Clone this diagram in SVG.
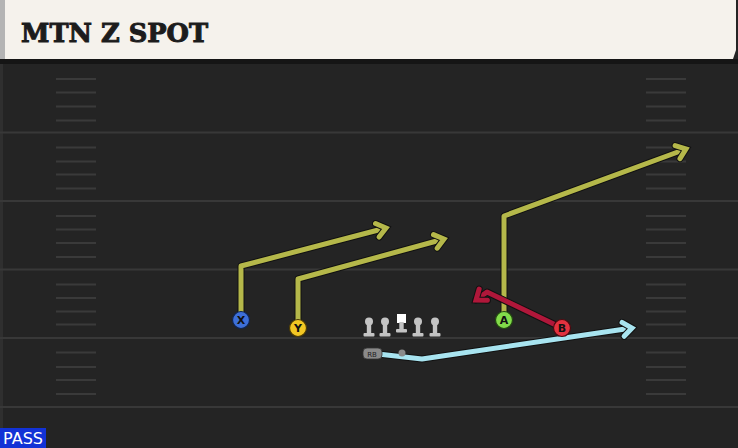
<svg xmlns="http://www.w3.org/2000/svg" width="738" height="448" viewBox="0 0 738 448">
<style>
.yard{stroke:#383838;stroke-width:2}
.hash{stroke:#3a3a3a;stroke-width:2}
.out{fill:none;stroke:#111;stroke-width:7;stroke-linejoin:round;stroke-linecap:round}
.rt{fill:none;stroke-width:5;stroke-linejoin:round;stroke-linecap:round}
.ol{stroke:none;fill:#c4c4c4}
.lbl{font-family:"DejaVu Sans",sans-serif;font-weight:bold;font-size:11px;fill:#111;text-anchor:middle}
</style>
<defs>
<marker id="ay" markerUnits="userSpaceOnUse" markerWidth="20" markerHeight="20" refX="0" refY="0" viewBox="-12 -10 20 20" orient="auto" overflow="visible">
<path d="M-9,-7 L0,0 L-9,7" fill="none" stroke="#111" stroke-width="7" stroke-linejoin="miter" stroke-linecap="round"/>
<path d="M-9,-7 L0,0 L-9,7" fill="none" stroke="#b5b84a" stroke-width="5" stroke-linejoin="miter" stroke-linecap="round"/>
</marker>
<marker id="ar" markerUnits="userSpaceOnUse" markerWidth="20" markerHeight="20" refX="0" refY="0" viewBox="-12 -10 20 20" orient="auto" overflow="visible">
<path d="M-9,-7 L0,0 L-9,7" fill="none" stroke="#111" stroke-width="7" stroke-linejoin="miter" stroke-linecap="round"/>
<path d="M-9,-7 L0,0 L-9,7" fill="none" stroke="#b0173a" stroke-width="5" stroke-linejoin="miter" stroke-linecap="round"/>
</marker>
<marker id="ab" markerUnits="userSpaceOnUse" markerWidth="20" markerHeight="20" refX="0" refY="0" viewBox="-12 -10 20 20" orient="auto" overflow="visible">
<path d="M-9,-7 L0,0 L-9,7" fill="none" stroke="#111" stroke-width="7" stroke-linejoin="miter" stroke-linecap="round"/>
<path d="M-9,-7 L0,0 L-9,7" fill="none" stroke="#a8e4f0" stroke-width="5" stroke-linejoin="miter" stroke-linecap="round"/>
</marker>
<g id="lineman">
<circle cx="0" cy="-9.5" r="4" class="ol"/>
<rect x="-2.2" y="-7" width="4.4" height="10" class="ol"/>
<rect x="-5.5" y="2" width="11" height="3.5" rx="1" class="ol"/>
</g>
</defs>
<rect width="738" height="448" fill="#242424"/>
<rect x="0" y="59" width="738" height="5" fill="#151515"/>
<rect x="0" y="64" width="3" height="384" fill="#2f2f2f"/>
<g id="field">
<line class="yard" x1="0" y1="132.5" x2="738" y2="132.5"/>
<line class="yard" x1="0" y1="201" x2="738" y2="201"/>
<line class="yard" x1="0" y1="269.5" x2="738" y2="269.5"/>
<line class="yard" x1="0" y1="338" x2="738" y2="338"/>
<line class="yard" x1="0" y1="407" x2="738" y2="407"/>
<g class="hash">
<line x1="56" y1="79" x2="96" y2="79"/><line x1="56" y1="92.5" x2="96" y2="92.5"/><line x1="56" y1="106.5" x2="96" y2="106.5"/><line x1="56" y1="120.5" x2="96" y2="120.5"/>
<line x1="56" y1="147.5" x2="96" y2="147.5"/><line x1="56" y1="161.5" x2="96" y2="161.5"/><line x1="56" y1="174.5" x2="96" y2="174.5"/><line x1="56" y1="188.5" x2="96" y2="188.5"/>
<line x1="56" y1="216" x2="96" y2="216"/><line x1="56" y1="229.5" x2="96" y2="229.5"/><line x1="56" y1="243" x2="96" y2="243"/><line x1="56" y1="257" x2="96" y2="257"/>
<line x1="56" y1="284.5" x2="96" y2="284.5"/><line x1="56" y1="298" x2="96" y2="298"/><line x1="56" y1="311.5" x2="96" y2="311.5"/><line x1="56" y1="324.5" x2="96" y2="324.5"/>
<line x1="56" y1="352.5" x2="96" y2="352.5"/><line x1="56" y1="367" x2="96" y2="367"/><line x1="56" y1="380" x2="96" y2="380"/><line x1="56" y1="394" x2="96" y2="394"/>
<line x1="646" y1="79" x2="686" y2="79"/><line x1="646" y1="92.5" x2="686" y2="92.5"/><line x1="646" y1="106.5" x2="686" y2="106.5"/><line x1="646" y1="120.5" x2="686" y2="120.5"/>
<line x1="646" y1="147.5" x2="686" y2="147.5"/><line x1="646" y1="161.5" x2="686" y2="161.5"/><line x1="646" y1="174.5" x2="686" y2="174.5"/><line x1="646" y1="188.5" x2="686" y2="188.5"/>
<line x1="646" y1="216" x2="686" y2="216"/><line x1="646" y1="229.5" x2="686" y2="229.5"/><line x1="646" y1="243" x2="686" y2="243"/><line x1="646" y1="257" x2="686" y2="257"/>
<line x1="646" y1="284.5" x2="686" y2="284.5"/><line x1="646" y1="298" x2="686" y2="298"/><line x1="646" y1="311.5" x2="686" y2="311.5"/><line x1="646" y1="324.5" x2="686" y2="324.5"/>
<line x1="646" y1="352.5" x2="686" y2="352.5"/><line x1="646" y1="367" x2="686" y2="367"/><line x1="646" y1="380" x2="686" y2="380"/><line x1="646" y1="394" x2="686" y2="394"/>
</g>
</g>
<g id="header">
<rect x="0" y="0" width="5" height="59" fill="#b4b4b4"/>
<path d="M5,0 H736 V50 L733,59 H5 Z" fill="#f5f2ec"/>
<text x="21" y="42" font-family="'DejaVu Serif',serif" font-weight="bold" font-size="26" fill="#1c1c1c" stroke="#1c1c1c" stroke-width="1" textLength="187" lengthAdjust="spacingAndGlyphs">MTN Z SPOT</text>
</g>
<g id="connectors">
<path class="out" d="M241,312 V266 L386,228"/>
<path class="rt" stroke="#b5b84a" d="M241,312 V266 L386,228" marker-end="url(#ay)"/>
<path class="out" d="M298,320 V279 L444,239"/>
<path class="rt" stroke="#b5b84a" d="M298,320 V279 L444,239" marker-end="url(#ay)"/>
<path class="out" d="M504,312 V216 L686,149"/>
<path class="rt" stroke="#b5b84a" d="M504,312 V216 L686,149" marker-end="url(#ay)"/>
<path class="out" d="M562,328 L487,292 L476,300"/>
<path class="rt" stroke="#b0173a" d="M562,328 L487,292 L476,300" marker-end="url(#ar)"/>
<path class="out" d="M378,354 L422,359 L632,328"/>
<path class="rt" stroke="#a8e4f0" d="M378,354 L422,359 L632,328" marker-end="url(#ab)"/>
</g>
<g id="X"><circle cx="241" cy="320" r="8.5" fill="#3d6fd8" stroke="#10254f" stroke-width="1.2"/><text class="lbl" x="241" y="324">X</text></g>
<g id="Y"><circle cx="298" cy="328" r="8.5" fill="#f2c623" stroke="#4a3a05" stroke-width="1.2"/><text class="lbl" x="298" y="332">Y</text></g>
<g id="A"><circle cx="504" cy="320" r="8.5" fill="#82dc4a" stroke="#224a10" stroke-width="1.2"/><text class="lbl" x="504" y="324">A</text></g>
<g id="B"><circle cx="562" cy="328" r="8.5" fill="#e2323f" stroke="#4a0a10" stroke-width="1.2"/><text class="lbl" x="562" y="332">B</text></g>
<g id="LT"><use href="#lineman" x="369" y="331"/></g>
<g id="LG"><use href="#lineman" x="385" y="331"/></g>
<g id="C"><rect x="397" y="314" width="9" height="9" fill="#ffffff"/><rect x="399.3" y="322" width="4.4" height="8" class="ol"/><rect x="396" y="329" width="11" height="3.5" rx="1" class="ol"/></g>
<g id="RG"><use href="#lineman" x="418" y="331"/></g>
<g id="RT"><use href="#lineman" x="435" y="331"/></g>
<g id="QB"><circle cx="402" cy="353" r="3.5" fill="#8a8a8a"/></g>
<g id="RB"><rect x="363" y="348" width="19" height="11" rx="4" fill="#8a8a8a" stroke="#333" stroke-width="0.8"/><text x="372" y="356.5" font-family="'DejaVu Sans',sans-serif" font-size="7" fill="#222" text-anchor="middle">RB</text></g>
<g id="pass"><rect x="0" y="428" width="46" height="20" fill="#1232d6"/><text x="23" y="444" font-family="'DejaVu Sans',sans-serif" font-size="15" fill="#ffffff" text-anchor="middle" textLength="40" lengthAdjust="spacingAndGlyphs">PASS</text></g>
</svg>
